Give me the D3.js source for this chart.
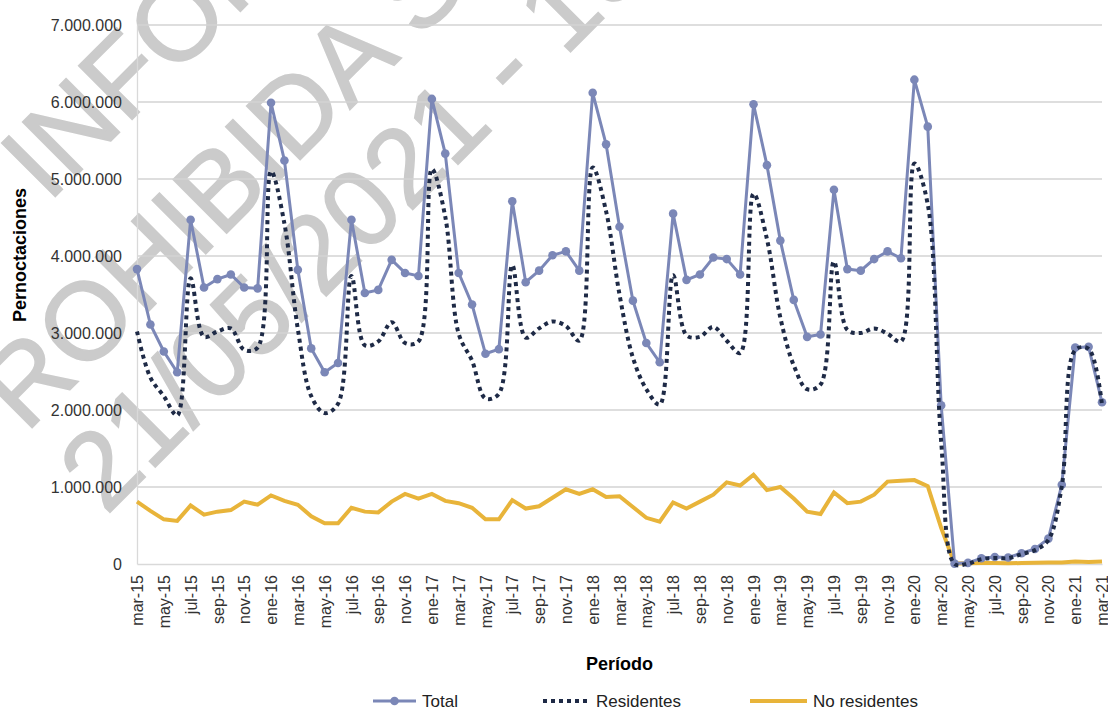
<!DOCTYPE html>
<html>
<head>
<meta charset="utf-8">
<script src="https://cdn.jsdelivr.net/npm/d3@7"></script>
<style>
  body { margin: 0; background: #fff; }
  svg { display: block; font-family: "Liberation Sans", Arial, sans-serif; }
</style>
</head>
<body>
<svg id="figure"></svg>
<script>
// months (categories)
const months = [
  "mar-15","abr-15","may-15","jun-15","jul-15","ago-15","sep-15","oct-15","nov-15","dic-15",
  "ene-16","feb-16","mar-16","abr-16","may-16","jun-16","jul-16","ago-16","sep-16","oct-16","nov-16","dic-16",
  "ene-17","feb-17","mar-17","abr-17","may-17","jun-17","jul-17","ago-17","sep-17","oct-17","nov-17","dic-17",
  "ene-18","feb-18","mar-18","abr-18","may-18","jun-18","jul-18","ago-18","sep-18","oct-18","nov-18","dic-18",
  "ene-19","feb-19","mar-19","abr-19","may-19","jun-19","jul-19","ago-19","sep-19","oct-19","nov-19","dic-19",
  "ene-20","feb-20","mar-20","abr-20","may-20","jun-20","jul-20","ago-20","sep-20","oct-20","nov-20","dic-20",
  "ene-21","feb-21","mar-21"
];

// pernoctaciones, in thousands
const total = [
  3830, 3110, 2760, 2490, 4470, 3590, 3700, 3760, 3590, 3580,
  5990, 5240, 3820, 2800, 2490, 2610, 4470, 3520, 3560, 3950, 3780, 3740,
  6040, 5330, 3780, 3370, 2730, 2790, 4710, 3660, 3810, 4010, 4060, 3810,
  6120, 5450, 4380, 3420, 2870, 2620, 4550, 3690, 3760, 3980, 3960, 3760,
  5970, 5180, 4200, 3430, 2950, 2980, 4860, 3830, 3810, 3960, 4060, 3970,
  6290, 5680, 2060, 5, 15, 75, 90, 85, 140, 195, 330, 1030,
  2810, 2820, 2100
];

const residentes = [
  3020, 2420, 2180, 1930, 3710, 2950, 3020, 3060, 2780, 2810,
  5100, 4420, 3050, 2180, 1960, 2080, 3740, 2840, 2890, 3140, 2870, 2890,
  5130, 4510, 2990, 2640, 2150, 2210, 3880, 2940, 3060, 3150, 3090, 2900,
  5150, 4580, 3500, 2680, 2270, 2070, 3750, 2970, 2950, 3080, 2900, 2740,
  4810, 4220, 3200, 2580, 2270, 2330, 3930, 3040, 3000, 3060, 2990, 2890,
  5200, 4670, 1590, 0, 5, 63, 78, 75, 128, 180, 312, 1010,
  2778, 2795, 2068
];

const noResidentes = [
  810, 690, 580, 560, 760, 640, 680, 700, 810, 770,
  890, 820, 770, 620, 530, 530, 730, 680, 670, 810, 910, 850,
  910, 820, 790, 730, 580, 580, 830, 720, 750, 860, 970, 910,
  970, 870, 880, 740, 600, 550, 800, 720, 810, 900, 1060, 1020,
  1160, 960, 1000, 850, 680, 650, 930, 790, 810, 900, 1070, 1080,
  1090, 1010, 470, 5, 10, 12, 12, 10, 12, 15, 18, 20,
  32, 25, 32
];

const yTicks = [0, 1000, 2000, 3000, 4000, 5000, 6000, 7000];

const watermark = ["INFORMACIÓN EMBARGADA", "PROHIBIDA SU DIFUSIÓN", "21/05/2021 - 10:00"];

const W = 1108, H = 711;
const margin = {top: 25, right: 6, bottom: 147, left: 137};

const svg = d3.select("#figure")
  .attr("width", W)
  .attr("height", H);

// watermark in the back
const wm = svg.append("g")
  .attr("transform", "rotate(-45)")
  .attr("fill", "#cbcbcb")
  .attr("stroke", "#cbcbcb")
  .attr("stroke-width", 1.5)
  .style("font-size", "110px");
const wmPos = [[-110, 178], [-362, 325], [-290, 440]];
watermark.forEach((t, i) => {
  wm.append("text")
    .attr("x", wmPos[i][0])
    .attr("y", wmPos[i][1])
    .text(t);
});

const x = d3.scalePoint()
  .domain(months)
  .range([margin.left, W - margin.right]);

const y = d3.scaleLinear()
  .domain([0, 7000])
  .range([H - margin.bottom, margin.top]);

const es = d3.formatLocale({decimal: ",", thousands: ".", grouping: [3], currency: ["", " €"]});
const fmt = es.format(",.0f");

// gridlines
svg.append("g")
  .selectAll("line")
  .data(yTicks.slice(1))
  .join("line")
  .attr("x1", margin.left)
  .attr("x2", W - margin.right)
  .attr("y1", d => y(d))
  .attr("y2", d => y(d))
  .attr("stroke", "#d3d3d3")
  .attr("stroke-width", 1.3);

// y axis
const yAxis = svg.append("g")
  .attr("class", "axis y-axis")
  .attr("transform", "translate(" + margin.left + ",0)")
  .call(d3.axisLeft(y).tickValues(yTicks).tickSize(0).tickPadding(15)
    .tickFormat(d => fmt(d * 1000)));
yAxis.select(".domain").attr("stroke", "#d9d9d9").attr("stroke-width", 1.3);
yAxis.selectAll("text")
  .attr("fill", "#333")
  .style("font-size", "16px")
  .style("font-family", "'Liberation Sans', Arial, sans-serif");

// x axis
const xAxis = svg.append("g")
  .attr("class", "axis x-axis")
  .attr("transform", "translate(0," + y(0) + ")")
  .call(d3.axisBottom(x).tickValues(months.filter((m, i) => i % 2 === 0)).tickSize(0));
xAxis.select(".domain").attr("stroke", "#d9d9d9").attr("stroke-width", 1.3);
xAxis.selectAll("text")
  .attr("fill", "#333")
  .style("font-size", "16px")
  .style("font-family", "'Liberation Sans', Arial, sans-serif")
  .attr("text-anchor", "end")
  .attr("transform", "rotate(-90)")
  .attr("x", -11)
  .attr("y", 0)
  .attr("dy", "0.35em");

// axis titles
svg.append("text")
  .attr("transform", "translate(20,255) rotate(-90)")
  .attr("text-anchor", "middle")
  .attr("dy", "0.35em")
  .style("font-size", "18px")
  .style("font-weight", "bold")
  .text("Pernoctaciones");

svg.append("text")
  .attr("x", (margin.left + W - margin.right) / 2)
  .attr("y", 670)
  .attr("text-anchor", "middle")
  .style("font-size", "18px")
  .style("font-weight", "bold")
  .text("Período");

// series
const colTotal = "#7b87b7", colRes = "#1e2a46", colNoRes = "#e8b43a";

const lineStraight = d3.line()
  .x((d, i) => x(months[i]))
  .y(d => y(d));

const lineSmooth = d3.line()
  .x((d, i) => x(months[i]))
  .y(d => y(d))
  .curve(d3.curveCatmullRom.alpha(0.5));

svg.append("path")
  .datum(noResidentes)
  .attr("fill", "none")
  .attr("stroke", colNoRes)
  .attr("stroke-width", 4)
  .attr("d", lineStraight);

svg.append("path")
  .datum(total)
  .attr("fill", "none")
  .attr("stroke", colTotal)
  .attr("stroke-width", 3)
  .attr("d", lineStraight);

svg.append("g")
  .selectAll("circle")
  .data(total)
  .join("circle")
  .attr("cx", (d, i) => x(months[i]))
  .attr("cy", d => y(d))
  .attr("r", 4.3)
  .attr("fill", colTotal);

svg.append("path")
  .datum(residentes)
  .attr("fill", "none")
  .attr("stroke", colRes)
  .attr("stroke-width", 4)
  .attr("stroke-dasharray", "4 4")
  .attr("d", lineSmooth);

// legend
const legend = svg.append("g").style("font-size", "17px");
const legendItems = [
  {name: "Total", x0: 373, x1: 416, color: colTotal, width: 3, dash: null, marker: true},
  {name: "Residentes", x0: 543, x1: 590, color: colRes, width: 4, dash: "4 4", marker: false},
  {name: "No residentes", x0: 750, x1: 807, color: colNoRes, width: 4, dash: null, marker: false}
];
legendItems.forEach(it => {
  legend.append("line")
    .attr("x1", it.x0).attr("x2", it.x1)
    .attr("y1", 701).attr("y2", 701)
    .attr("stroke", it.color)
    .attr("stroke-width", it.width)
    .attr("stroke-dasharray", it.dash);
  if (it.marker) {
    legend.append("circle")
      .attr("cx", (it.x0 + it.x1) / 2).attr("cy", 701).attr("r", 4.3)
      .attr("fill", it.color);
  }
  legend.append("text")
    .attr("x", it.x1 + 6)
    .attr("y", 707)
    .attr("fill", "#222")
    .text(it.name);
});
</script>
</body>
</html>
